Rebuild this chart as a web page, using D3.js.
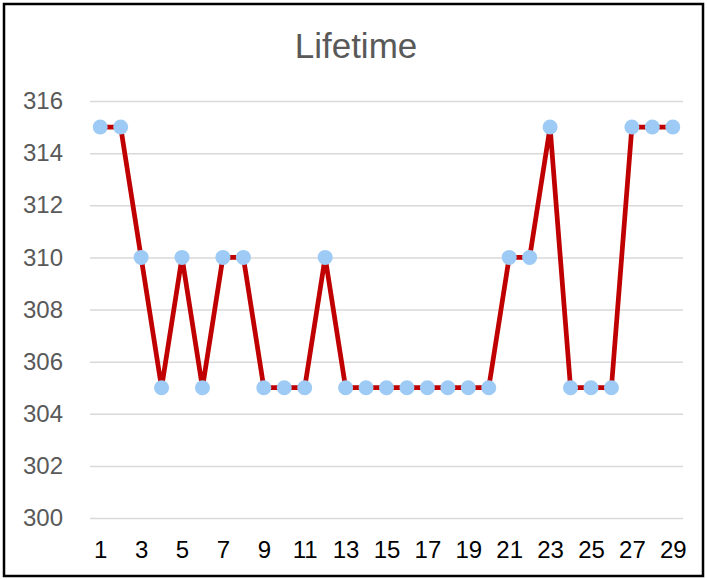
<!DOCTYPE html>
<html>
<head>
<meta charset="utf-8">
<script src="https://cdn.jsdelivr.net/npm/d3@7"></script>
<style>
  html, body { margin: 0; padding: 0; background: #fff; }
  svg { display: block; font-family: "Liberation Sans", Arial, sans-serif; }
</style>
</head>
<body>
<svg id="chart" width="707" height="580"></svg>
<script>
// Lifetime per run, 29 runs
const runs = d3.range(1, 30);
const lifetime = [315, 315, 310, 305, 310, 305, 310, 310, 305, 305, 305, 310, 305, 305, 305,
                  305, 305, 305, 305, 305, 310, 310, 315, 305, 305, 305, 315, 315, 315];
const yTicks = [300, 302, 304, 306, 308, 310, 312, 314, 316];
const xTickLabels = runs.filter(r => r % 2 === 1);

const svg = d3.select("#chart");
const W = 707, H = 580;
const FONT = "'Liberation Sans', Arial, sans-serif";

// chart frame
svg.append("rect")
  .attr("x", 4).attr("y", 4).attr("width", W - 8).attr("height", H - 8)
  .attr("fill", "#fff").attr("stroke", "#000").attr("stroke-width", 2.5);

const plot = { left: 90, right: 683, top: 101, bottom: 518 };

const x = d3.scalePoint()
  .domain(runs)
  .range([plot.left, plot.right])
  .padding(0.5);

const y = d3.scaleLinear()
  .domain([300, 316])
  .range([plot.bottom, plot.top]);

// title
svg.append("text")
  .attr("x", 356)
  .attr("y", 58)
  .attr("text-anchor", "middle")
  .attr("font-size", 35)
  .attr("font-family", FONT)
  .attr("fill", "#595959")
  .text("Lifetime");

// horizontal gridlines + y labels
const yAxis = d3.axisLeft(y).tickValues(yTicks).tickSize(-(plot.right - plot.left)).tickPadding(27);
const gy = svg.append("g").attr("transform", `translate(${plot.left},0)`).call(yAxis);
gy.select(".domain").remove();
gy.selectAll(".tick line").attr("stroke", "#d9d9d9").attr("stroke-width", 1.5);
gy.selectAll(".tick text")
  .attr("font-size", 24).attr("fill", "#595959")
  .attr("font-family", FONT);

// x labels
const xAxis = d3.axisBottom(x).tickValues(xTickLabels).tickSize(0).tickPadding(23);
const gx = svg.append("g").attr("transform", `translate(0,${plot.bottom})`).call(xAxis);
gx.select(".domain").remove();
gx.selectAll(".tick text")
  .attr("font-size", 24).attr("fill", "#000")
  .attr("font-family", FONT);

// series line
const line = d3.line()
  .x((d, i) => x(runs[i]))
  .y(d => y(d));

svg.append("path")
  .datum(lifetime)
  .attr("d", line)
  .attr("fill", "none")
  .attr("stroke", "#C00000")
  .attr("stroke-width", 4.75)
  .attr("stroke-linejoin", "round");

// markers
svg.append("g").selectAll("circle")
  .data(lifetime)
  .join("circle")
  .attr("cx", (d, i) => x(runs[i]))
  .attr("cy", d => y(d))
  .attr("r", 7.5)
  .attr("fill", "#9DCBF5");
</script>
</body>
</html>
